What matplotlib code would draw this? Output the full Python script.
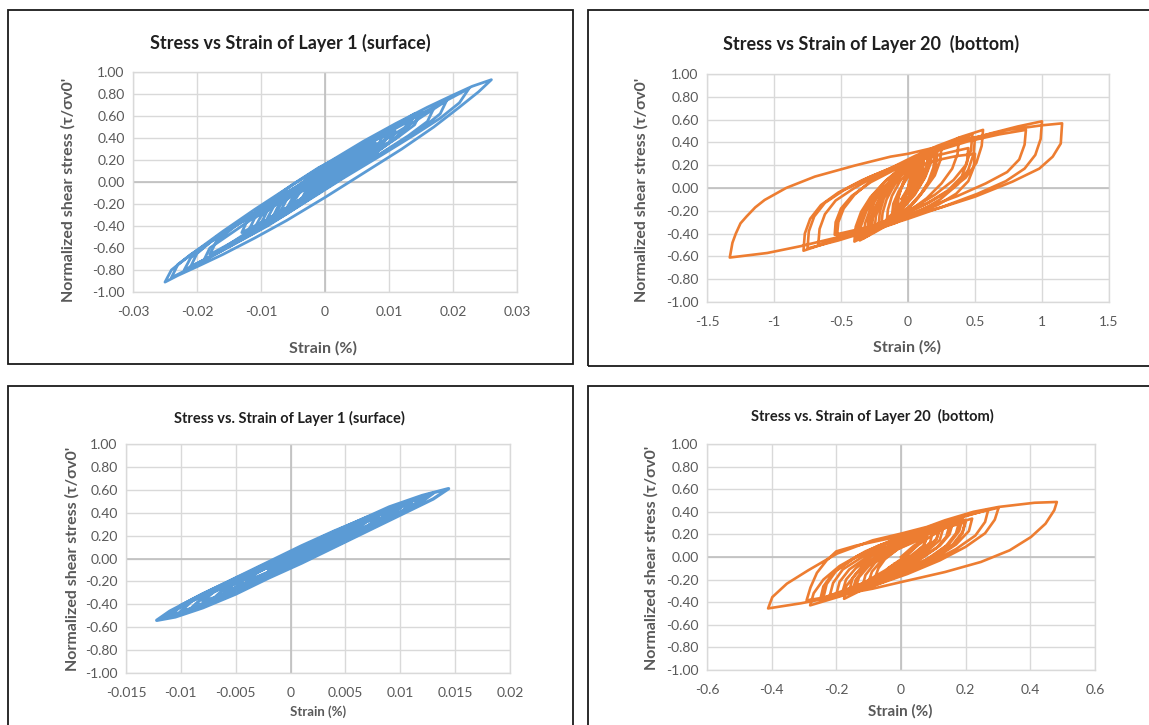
import numpy as np
import matplotlib
matplotlib.use("Agg")
import matplotlib.pyplot as plt
from matplotlib.patches import Rectangle

plt.rcParams['font.family'] = ['Lato', 'DejaVu Sans']

BLUE = '#5B9BD5'
ORANGE = '#ED7D31'

# strain (%) / normalized shear stress
layer1_run1 = [
    (0.000, 0.01), (0.001, 0.07), (0.003, 0.13),
    (0.002, 0.06), (0.000, -0.02), (-0.002, -0.09), (-0.003, -0.12),
    (-0.002, -0.03), (0.000, 0.05), (0.003, 0.15), (0.005, 0.21),
    (0.004, 0.13), (0.002, 0.03), (0.000, -0.06), (-0.003, -0.15), (-0.005, -0.19),
    (-0.004, -0.10), (-0.002, 0.00), (0.001, 0.12), (0.004, 0.22), (0.007, 0.28),
    (0.006, 0.19), (0.003, 0.07), (0.000, -0.05), (-0.003, -0.15), (-0.005, -0.22), (-0.007, -0.27),
    (-0.006, -0.16), (-0.003, -0.03), (0.000, 0.09), (0.003, 0.20), (0.006, 0.30), (0.009, 0.36),
    (0.008, 0.26), (0.005, 0.13), (0.002, 0.01), (-0.001, -0.10), (-0.004, -0.20), (-0.007, -0.28), (-0.009, -0.33),
    (-0.008, -0.22), (-0.005, -0.08), (-0.002, 0.06), (0.002, 0.20), (0.006, 0.34), (0.010, 0.45),
    (0.009, 0.33), (0.006, 0.20), (0.003, 0.07), (0.000, -0.06), (-0.004, -0.20), (-0.008, -0.33), (-0.012, -0.45),
    (-0.011, -0.33), (-0.008, -0.19), (-0.004, -0.03), (0.000, 0.12), (0.004, 0.27), (0.009, 0.44), (0.014, 0.62),
    (0.013, 0.50), (0.010, 0.36), (0.006, 0.20), (0.002, 0.05), (-0.003, -0.14), (-0.008, -0.32), (-0.013, -0.50), (-0.018, -0.66),
    (-0.017, -0.54), (-0.014, -0.40), (-0.009, -0.22), (-0.004, -0.03), (0.001, 0.15), (0.006, 0.33), (0.011, 0.50), (0.017, 0.67),
    (0.016, 0.55), (0.013, 0.42), (0.009, 0.27), (0.004, 0.09), (-0.001, -0.10), (-0.006, -0.29), (-0.011, -0.46), (-0.016, -0.62), (-0.021, -0.77),
    (-0.020, -0.65), (-0.017, -0.50), (-0.012, -0.32), (-0.007, -0.13), (-0.001, 0.08), (0.005, 0.30), (0.011, 0.50), (0.017, 0.68), (0.0225, 0.85),
    (0.021, 0.72), (0.018, 0.58), (0.014, 0.43), (0.009, 0.25), (0.003, 0.04), (-0.003, -0.18), (-0.009, -0.40), (-0.015, -0.59), (-0.020, -0.75), (-0.024, -0.87),
    (-0.023, -0.75), (-0.020, -0.62), (-0.016, -0.45), (-0.011, -0.25), (-0.006, -0.06), (0.000, 0.16), (0.006, 0.37), (0.011, 0.53), (0.016, 0.68), (0.020, 0.79), (0.023, 0.87), (0.026, 0.93),
    (0.024, 0.82), (0.021, 0.68), (0.017, 0.50), (0.012, 0.30), (0.006, 0.08), (0.000, -0.14), (-0.006, -0.35), (-0.011, -0.51), (-0.016, -0.66), (-0.020, -0.77), (-0.023, -0.85), (-0.025, -0.91),
    (-0.024, -0.80), (-0.021, -0.66), (-0.016, -0.47), (-0.010, -0.25), (-0.004, -0.03), (0.002, 0.18), (0.008, 0.39), (0.013, 0.55),
    (0.012, 0.44), (0.009, 0.31), (0.005, 0.16), (0.000, -0.03), (-0.005, -0.20), (-0.011, -0.42),
    (-0.010, -0.31), (-0.007, -0.17), (-0.003, -0.01), (0.002, 0.16), (0.008, 0.35),
    (0.007, 0.25), (0.004, 0.12), (0.000, -0.04), (-0.003, -0.15), (-0.006, -0.24),
    (-0.005, -0.14), (-0.002, -0.01), (0.001, 0.10), (0.005, 0.24),
    (0.004, 0.14), (0.001, 0.02), (-0.002, -0.06),
    (0.000, 0.03),
    (0.004, 0.19), (0.009, 0.37), (0.014, 0.55), (0.019, 0.74),
    (0.018, 0.62), (0.015, 0.48), (0.010, 0.30), (0.004, 0.09), (-0.002, -0.13), (-0.008, -0.35), (-0.013, -0.52), (-0.018, -0.68), (-0.022, -0.80),
    (-0.021, -0.69), (-0.018, -0.55), (-0.013, -0.36), (-0.008, -0.17), (-0.002, 0.04), (0.004, 0.25), (0.010, 0.46), (0.015, 0.64),
    (0.014, 0.52), (0.011, 0.39), (0.007, 0.24), (0.002, 0.06), (-0.003, -0.13), (-0.008, -0.31), (-0.013, -0.49), (-0.019, -0.72),
    (-0.018, -0.60), (-0.014, -0.44), (-0.009, -0.24), (-0.004, -0.05), (0.000, 0.10), (0.004, 0.24), (0.009, 0.42),
    (0.008, 0.30), (0.005, 0.17), (0.002, 0.04), (-0.002, -0.12), (-0.006, -0.26), (-0.010, -0.38),
    (-0.009, -0.26), (-0.006, -0.12), (-0.003, 0.02), (0.001, 0.17), (0.005, 0.30), (0.008, 0.39), (0.011, 0.46),
    (0.010, 0.36), (0.007, 0.22), (0.003, 0.06), (-0.001, -0.09), (-0.005, -0.21), (-0.008, -0.30),
    (-0.007, -0.18), (-0.004, -0.05), (0.000, 0.12), (0.004, 0.26), (0.007, 0.36),
    (0.006, 0.24), (0.003, 0.11), (-0.001, -0.06), (-0.005, -0.20), (-0.009, -0.34), (-0.013, -0.46),
    (-0.012, -0.33), (-0.009, -0.19), (-0.005, -0.02), (-0.001, 0.13), (0.003, 0.25), (0.006, 0.33),
    (0.005, 0.21), (0.002, 0.08), (-0.001, -0.06), (-0.004, -0.19), (-0.006, -0.28),
    (-0.005, -0.15), (-0.002, 0.00), (0.002, 0.17), (0.005, 0.30), (0.008, 0.40),
    (0.007, 0.28), (0.004, 0.14), (0.001, 0.01), (-0.002, -0.11), (-0.004, -0.20),
    (-0.003, -0.08), (0.000, 0.06), (0.002, 0.15), (0.004, 0.22),
    (0.003, 0.12), (0.000, 0.00), (-0.003, -0.12), (-0.006, -0.25), (-0.008, -0.34),
    (-0.007, -0.21), (-0.004, -0.06), (0.000, 0.12), (0.004, 0.28), (0.007, 0.39), (0.010, 0.47),
    (0.009, 0.35), (0.006, 0.22), (0.003, 0.11), (0.000, 0.03),
]

layer20_run1 = [
    (0.00, 0.00), (0.03, 0.12), (0.08, 0.22),
    (0.07, 0.12), (0.04, 0.01), (0.00, -0.10), (-0.05, -0.19), (-0.10, -0.25),
    (-0.09, -0.14), (-0.06, -0.03), (-0.02, 0.08), (0.04, 0.18), (0.12, 0.28),
    (0.11, 0.17), (0.08, 0.06), (0.03, -0.06), (-0.04, -0.17), (-0.12, -0.27), (-0.20, -0.35),
    (-0.19, -0.22), (-0.16, -0.10), (-0.11, 0.01), (-0.04, 0.13), (0.05, 0.23), (0.15, 0.32),
    (0.14, 0.20), (0.10, 0.07), (0.04, -0.06), (-0.04, -0.18), (-0.14, -0.29), (-0.28, -0.40),
    (-0.27, -0.28), (-0.23, -0.15), (-0.17, -0.03), (-0.09, 0.09), (0.02, 0.20), (0.20, 0.30),
    (0.19, 0.18), (0.15, 0.05), (0.08, -0.08), (-0.01, -0.20), (-0.13, -0.31), (-0.25, -0.39), (-0.36, -0.46),
    (-0.35, -0.33), (-0.31, -0.20), (-0.24, -0.08), (-0.15, 0.04), (-0.04, 0.16), (0.06, 0.25), (0.18, 0.33),
    (0.17, 0.22), (0.13, 0.10), (0.06, -0.03), (-0.03, -0.15), (-0.14, -0.28), (-0.30, -0.42),
    (-0.29, -0.30), (-0.25, -0.17), (-0.18, -0.04), (-0.08, 0.09), (0.05, 0.21), (0.18, 0.31), (0.28, 0.38), (0.38, 0.44),
    (0.37, 0.30), (0.33, 0.17), (0.25, 0.04), (0.14, -0.09), (0.00, -0.21), (-0.15, -0.32), (-0.28, -0.40), (-0.40, -0.47),
    (-0.39, -0.34), (-0.35, -0.21), (-0.28, -0.08), (-0.17, 0.06), (-0.03, 0.19), (0.12, 0.29), (0.28, 0.37), (0.40, 0.42), (0.50, 0.44),
    (0.49, 0.30), (0.45, 0.16), (0.37, 0.03), (0.24, -0.10), (0.08, -0.21), (-0.10, -0.31), (-0.25, -0.37), (-0.37, -0.42),
    (-0.36, -0.30), (-0.32, -0.18), (-0.24, -0.05), (-0.12, 0.07), (0.03, 0.17), (0.20, 0.24), (0.36, 0.28), (0.50, 0.30),
    (0.49, 0.18), (0.45, 0.06), (0.36, -0.05), (0.22, -0.15), (0.03, -0.24), (-0.17, -0.31), (-0.36, -0.37), (-0.53, -0.42),
    (-0.52, -0.30), (-0.48, -0.18), (-0.40, -0.06), (-0.28, 0.06), (-0.12, 0.18), (0.05, 0.28), (0.22, 0.37), (0.40, 0.45), (0.56, 0.51),
    (0.55, 0.37), (0.51, 0.22), (0.43, 0.09), (0.30, -0.03), (0.12, -0.15), (-0.10, -0.26), (-0.32, -0.36), (-0.55, -0.46), (-0.78, -0.55),
    (-0.77, -0.40), (-0.73, -0.27), (-0.65, -0.15), (-0.52, -0.04), (-0.34, 0.07), (-0.12, 0.18), (0.12, 0.29), (0.38, 0.40), (0.62, 0.48), (0.82, 0.54), (1.00, 0.585),
    (0.99, 0.43), (0.95, 0.29), (0.87, 0.17), (0.73, 0.06), (0.52, -0.05), (0.27, -0.16), (0.00, -0.27), (-0.27, -0.37), (-0.52, -0.46), (-0.75, -0.53),
    (-0.74, -0.38), (-0.70, -0.25), (-0.62, -0.13), (-0.48, -0.02), (-0.28, 0.10), (-0.05, 0.21), (0.20, 0.32), (0.45, 0.41), (0.68, 0.47), (0.88, 0.51),
    (0.87, 0.38), (0.83, 0.25), (0.74, 0.14), (0.58, 0.04), (0.37, -0.07), (0.12, -0.18), (-0.15, -0.30), (-0.42, -0.41), (-0.67, -0.50),
    (-0.66, -0.36), (-0.62, -0.23), (-0.54, -0.11), (-0.40, 0.00), (-0.22, 0.12), (0.00, 0.23), (0.22, 0.33), (0.48, 0.47),
    (0.47, 0.33), (0.43, 0.20), (0.34, 0.07), (0.20, -0.06), (0.02, -0.19), (-0.20, -0.31), (-0.48, -0.42), (-0.80, -0.51), (-1.05, -0.57), (-1.33, -0.61),
    (-1.31, -0.48), (-1.285, -0.40), (-1.25, -0.31), (-1.205, -0.25), (-1.14, -0.17), (-1.07, -0.105), (-0.91, 0.00), (-0.695, 0.10), (-0.40, 0.196), (-0.13, 0.275), (0.00, 0.30), (0.20, 0.355), (0.45, 0.43), (0.75, 0.51), (1.00, 0.55), (1.15, 0.567),
    (1.14, 0.39), (1.08, 0.275), (0.98, 0.17), (0.78, 0.056), (0.50, -0.076), (0.25, -0.17), (0.00, -0.25), (-0.25, -0.33), (-0.547, -0.41),
    (-0.54, -0.30), (-0.50, -0.18), (-0.42, -0.07), (-0.28, 0.05), (-0.10, 0.16), (0.10, 0.25), (0.30, 0.31), (0.45, 0.35),
    (0.44, 0.22), (0.40, 0.10), (0.30, -0.02), (0.15, -0.13), (0.00, -0.21), (-0.15, -0.28), (-0.30, -0.35),
    (-0.29, -0.23), (-0.25, -0.11), (-0.18, 0.00), (-0.08, 0.12), (0.03, 0.22), (0.15, 0.30),
    (0.14, 0.18), (0.10, 0.06), (0.03, -0.07), (-0.06, -0.18), (-0.14, -0.27), (-0.22, -0.33),
    (-0.21, -0.21), (-0.18, -0.09), (-0.12, 0.02), (-0.04, 0.13), (0.10, 0.25),
    (0.09, 0.14), (0.06, 0.03), (0.00, -0.09), (-0.06, -0.18), (-0.12, -0.25),
    (-0.11, -0.14), (-0.07, -0.03), (-0.01, 0.08), (0.05, 0.17),
    (0.04, 0.08), (0.01, -0.02), (-0.05, -0.10),
    (0.00, 0.00), (0.02, 0.10), (0.06, 0.20), (0.12, 0.30),
    (0.11, 0.18), (0.07, 0.06), (0.01, -0.07), (-0.07, -0.19), (-0.16, -0.30), (-0.25, -0.38),
    (-0.24, -0.25), (-0.21, -0.13), (-0.15, -0.01), (-0.07, 0.12), (0.00, 0.21), (0.08, 0.28),
    (0.07, 0.16), (0.03, 0.03), (-0.03, -0.10), (-0.12, -0.23), (-0.22, -0.35), (-0.33, -0.44),
    (-0.32, -0.31), (-0.28, -0.18), (-0.22, -0.06), (-0.13, 0.07), (-0.02, 0.19), (0.10, 0.27), (0.22, 0.33),
    (0.21, 0.21), (0.17, 0.08), (0.10, -0.05), (0.01, -0.17), (-0.08, -0.26), (-0.16, -0.32),
    (-0.15, -0.19), (-0.12, -0.07), (-0.06, 0.06), (0.03, 0.18), (0.13, 0.28), (0.25, 0.36),
    (0.24, 0.24), (0.20, 0.11), (0.12, -0.02), (0.02, -0.15), (-0.10, -0.27), (-0.24, -0.37), (-0.38, -0.45),
    (-0.37, -0.32), (-0.33, -0.19), (-0.26, -0.06), (-0.16, 0.07), (-0.06, 0.17), (0.05, 0.25),
    (0.04, 0.14), (0.01, 0.03), (-0.03, -0.09), (-0.08, -0.20),
    (-0.07, -0.08), (-0.04, 0.04), (0.02, 0.16), (0.09, 0.26), (0.17, 0.33),
    (0.16, 0.21), (0.12, 0.08), (0.05, -0.06), (-0.05, -0.19), (-0.16, -0.29), (-0.27, -0.36),
    (-0.26, -0.23), (-0.22, -0.11), (-0.16, 0.01), (-0.08, 0.13), (0.00, 0.22),
]

layer1_run2 = [
    (0.000, -0.01), (0.002, 0.08), (0.001, 0.02), (-0.001, -0.07), (-0.002, -0.10),
    (-0.001, -0.03), (0.001, 0.05), (0.003, 0.13), (0.004, 0.17),
    (0.003, 0.10), (0.001, 0.01), (-0.001, -0.08), (-0.003, -0.16), (-0.004, -0.19),
    (-0.003, -0.12), (-0.001, -0.02), (0.001, 0.07), (0.003, 0.16), (0.005, 0.23), (0.006, 0.26),
    (0.005, 0.19), (0.003, 0.09), (0.001, 0.00), (-0.001, -0.10), (-0.003, -0.19), (-0.005, -0.26), (-0.006, -0.28),
    (-0.005, -0.20), (-0.003, -0.10), (0.000, 0.04), (0.003, 0.17), (0.006, 0.30), (0.008, 0.35),
    (0.007, 0.28), (0.005, 0.18), (0.002, 0.04), (-0.001, -0.10), (-0.004, -0.24), (-0.006, -0.32), (-0.008, -0.37),
    (-0.007, -0.29), (-0.004, -0.15), (-0.001, -0.01), (0.002, 0.12), (0.005, 0.26), (0.008, 0.38), (0.010, 0.44),
    (0.009, 0.36), (0.006, 0.22), (0.003, 0.09), (0.000, -0.06), (-0.003, -0.20), (-0.006, -0.34), (-0.008, -0.42), (-0.010, -0.46),
    (-0.009, -0.37), (-0.006, -0.23), (-0.003, -0.09), (0.000, 0.05), (0.003, 0.19), (0.006, 0.32), (0.009, 0.45), (0.012, 0.55), (0.0144, 0.61),
    (0.013, 0.52), (0.010, 0.38), (0.007, 0.24), (0.004, 0.10), (0.001, -0.04), (-0.002, -0.17), (-0.005, -0.31), (-0.008, -0.43), (-0.0105, -0.51), (-0.0122, -0.54),
    (-0.011, -0.46), (-0.008, -0.31), (-0.005, -0.17), (-0.002, -0.03), (0.001, 0.11), (0.004, 0.24), (0.007, 0.36), (0.009, 0.42),
    (0.008, 0.33), (0.005, 0.19), (0.002, 0.05), (-0.001, -0.09), (-0.004, -0.23), (-0.006, -0.29),
    (-0.005, -0.21), (-0.002, -0.07), (0.001, 0.07), (0.004, 0.18),
    (0.003, 0.11), (0.000, -0.03), (-0.002, -0.10),
    (-0.001, -0.04), (0.001, 0.04),
    (0.003, 0.15), (0.005, 0.25), (0.007, 0.34), (0.009, 0.42), (0.011, 0.48),
    (0.010, 0.40), (0.008, 0.30), (0.006, 0.20), (0.004, 0.11), (0.002, 0.02), (0.000, -0.06), (-0.002, -0.15), (-0.004, -0.23), (-0.006, -0.32), (-0.008, -0.40), (-0.010, -0.47), (-0.011, -0.50),
    (-0.010, -0.41), (-0.008, -0.31), (-0.006, -0.22), (-0.004, -0.13), (-0.002, -0.04), (0.000, 0.05), (0.002, 0.14), (0.004, 0.23), (0.006, 0.31), (0.008, 0.39), (0.010, 0.47), (0.012, 0.53),
    (0.011, 0.45), (0.009, 0.35), (0.007, 0.26), (0.005, 0.17), (0.003, 0.08), (0.001, -0.01), (-0.001, -0.10), (-0.003, -0.19), (-0.005, -0.28), (-0.007, -0.36), (-0.009, -0.43),
    (-0.008, -0.34), (-0.006, -0.24), (-0.004, -0.15), (-0.002, -0.06), (0.000, 0.03), (0.002, 0.12), (0.004, 0.21), (0.006, 0.30), (0.008, 0.39), (0.010, 0.46),
    (0.009, 0.38), (0.007, 0.28), (0.005, 0.19), (0.003, 0.10), (0.001, 0.01), (-0.001, -0.08), (-0.003, -0.17), (-0.005, -0.26), (-0.007, -0.35),
    (-0.006, -0.26), (-0.004, -0.16), (-0.002, -0.07), (0.000, 0.02), (0.002, 0.11), (0.004, 0.20), (0.006, 0.29), (0.008, 0.38), (0.010, 0.47), (0.012, 0.54), (0.013, 0.57),
    (0.012, 0.50), (0.010, 0.40), (0.008, 0.31), (0.006, 0.22), (0.004, 0.13), (0.002, 0.04), (0.000, -0.05), (-0.002, -0.14), (-0.004, -0.23), (-0.006, -0.31), (-0.008, -0.40), (-0.010, -0.48), (-0.0115, -0.52),
    (-0.010, -0.42), (-0.008, -0.32), (-0.006, -0.23), (-0.004, -0.14), (-0.002, -0.05), (0.000, 0.04), (0.002, 0.13), (0.004, 0.21), (0.006, 0.29), (0.007, 0.33),
    (0.006, 0.25), (0.004, 0.15), (0.002, 0.06), (0.000, -0.04), (-0.002, -0.12), (-0.004, -0.21), (-0.005, -0.25),
    (-0.004, -0.16), (-0.002, -0.06), (0.000, 0.03), (0.002, 0.12), (0.004, 0.20), (0.005, 0.24),
    (0.004, 0.15), (0.002, 0.06), (0.000, -0.02),
]

layer20_run2 = [
    (0.00, 0.00), (0.04, 0.10), (0.08, 0.17),
    (0.07, 0.10), (0.04, 0.02), (0.00, -0.06), (-0.04, -0.13), (-0.08, -0.18),
    (-0.07, -0.10), (-0.05, -0.02), (-0.01, 0.07), (0.05, 0.16), (0.12, 0.25),
    (0.11, 0.16), (0.08, 0.07), (0.03, -0.03), (-0.03, -0.12), (-0.09, -0.20), (-0.14, -0.27),
    (-0.13, -0.18), (-0.10, -0.08), (-0.05, 0.03), (0.02, 0.13), (0.09, 0.22), (0.16, 0.30),
    (0.15, 0.20), (0.12, 0.10), (0.06, -0.01), (-0.01, -0.11), (-0.09, -0.21), (-0.18, -0.30),
    (-0.17, -0.20), (-0.14, -0.10), (-0.09, 0.01), (-0.02, 0.12), (0.06, 0.22), (0.13, 0.29), (0.19, 0.34),
    (0.18, 0.23), (0.15, 0.12), (0.10, 0.01), (0.03, -0.10), (-0.05, -0.20), (-0.12, -0.29), (-0.176, -0.37),
    (-0.17, -0.26), (-0.14, -0.15), (-0.09, -0.04), (-0.02, 0.08), (0.07, 0.19), (0.14, 0.26), (0.20, 0.31),
    (0.19, 0.21), (0.16, 0.10), (0.10, -0.01), (0.02, -0.12), (-0.07, -0.22), (-0.15, -0.29), (-0.22, -0.34),
    (-0.21, -0.23), (-0.18, -0.11), (-0.12, 0.00), (-0.04, 0.12), (0.05, 0.22), (0.14, 0.31), (0.21, 0.37), (0.27, 0.42),
    (0.26, 0.31), (0.23, 0.19), (0.17, 0.07), (0.09, -0.05), (0.00, -0.16), (-0.09, -0.26), (-0.19, -0.35), (-0.281, -0.428),
    (-0.27, -0.32), (-0.24, -0.20), (-0.19, -0.08), (-0.11, 0.05), (-0.01, 0.17), (0.09, 0.27), (0.19, 0.36), (0.302, 0.437),
    (0.29, 0.33), (0.26, 0.21), (0.20, 0.09), (0.12, -0.03), (0.02, -0.15), (-0.09, -0.26), (-0.20, -0.35), (-0.31, -0.41), (-0.411, -0.455),
    (-0.398, -0.355), (-0.353, -0.236), (-0.287, -0.118), (-0.198, 0.03), (-0.087, 0.148), (0.00, 0.207), (0.08, 0.266), (0.136, 0.325), (0.224, 0.40), (0.302, 0.443), (0.413, 0.48), (0.482, 0.487),
    (0.474, 0.414), (0.447, 0.295), (0.402, 0.177), (0.336, 0.059), (0.247, -0.044), (0.136, -0.133), (0.00, -0.222), (-0.087, -0.28), (-0.198, -0.34), (-0.292, -0.384),
    (-0.28, -0.27), (-0.26, -0.14), (-0.23, -0.03), (-0.20, 0.05), (-0.14, 0.10), (-0.06, 0.15), (0.04, 0.21), (0.12, 0.27), (0.20, 0.33),
    (0.19, 0.22), (0.16, 0.11), (0.10, 0.00), (0.02, -0.11), (-0.06, -0.21), (-0.15, -0.30),
    (-0.14, -0.20), (-0.11, -0.09), (-0.06, 0.02), (0.02, 0.14), (0.13, 0.25),
    (0.12, 0.15), (0.08, 0.05), (0.02, -0.06), (-0.04, -0.15), (-0.10, -0.22),
    (-0.09, -0.13), (-0.06, -0.03), (-0.01, 0.07), (0.08, 0.18),
    (0.07, 0.10), (0.03, 0.01), (-0.04, -0.10),
    (0.00, -0.02), (0.04, 0.08), (0.09, 0.18), (0.15, 0.28),
    (0.14, 0.18), (0.11, 0.08), (0.05, -0.04), (-0.03, -0.15), (-0.11, -0.25), (-0.20, -0.33),
    (-0.19, -0.22), (-0.16, -0.11), (-0.10, 0.01), (-0.02, 0.12), (0.10, 0.24),
    (0.09, 0.13), (0.05, 0.02), (-0.02, -0.10), (-0.10, -0.21), (-0.17, -0.29), (-0.24, -0.36),
    (-0.23, -0.24), (-0.20, -0.12), (-0.14, 0.00), (-0.06, 0.11), (0.04, 0.21), (0.11, 0.27), (0.18, 0.31),
    (0.17, 0.21), (0.14, 0.10), (0.08, -0.02), (0.00, -0.13), (-0.06, -0.21), (-0.12, -0.27),
    (-0.11, -0.16), (-0.08, -0.05), (-0.02, 0.07), (0.06, 0.18), (0.14, 0.27), (0.22, 0.34),
    (0.21, 0.23), (0.17, 0.11), (0.10, -0.02), (0.01, -0.13), (-0.08, -0.24), (-0.17, -0.32), (-0.25, -0.38),
    (-0.24, -0.26), (-0.21, -0.14), (-0.15, -0.02), (-0.07, 0.10), (0.06, 0.20),
    (0.05, 0.10), (0.01, -0.01), (-0.05, -0.12), (-0.11, -0.22), (-0.16, -0.30),
    (-0.15, -0.19), (-0.12, -0.08), (-0.06, 0.04), (0.02, 0.15), (0.12, 0.26),
    (0.11, 0.16), (0.07, 0.06), (0.02, -0.02), (-0.02, -0.06),
]

y_ticks = [1.0, 0.8, 0.6, 0.4, 0.2, 0.0, -0.2, -0.4, -0.6, -0.8, -1.0]
y_labels = ['1.00', '0.80', '0.60', '0.40', '0.20', '0.00',
            '-0.20', '-0.40', '-0.60', '-0.80', '-1.00']

x_ticks_1 = [-0.03, -0.02, -0.01, 0, 0.01, 0.02, 0.03]
x_labels_1 = ['-0.03', '-0.02', '-0.01', '0', '0.01', '0.02', '0.03']
x_ticks_2 = [-1.5, -1, -0.5, 0, 0.5, 1, 1.5]
x_labels_2 = ['-1.5', '-1', '-0.5', '0', '0.5', '1', '1.5']
x_ticks_3 = [-0.015, -0.01, -0.005, 0, 0.005, 0.01, 0.015, 0.02]
x_labels_3 = ['-0.015', '-0.01', '-0.005', '0', '0.005', '0.01', '0.015', '0.02']
x_ticks_4 = [-0.6, -0.4, -0.2, 0, 0.2, 0.4, 0.6]
x_labels_4 = ['-0.6', '-0.4', '-0.2', '0', '0.2', '0.4', '0.6']

W, H = 1149, 725
fig = plt.figure(figsize=(W / 100, H / 100), dpi=100)
fig.patch.set_facecolor('white')

def frac(l, t, r, b):
    return [l / W, 1 - b / H, (r - l) / W, (b - t) / H]

# outer chart boxes
for (l, t, r, b) in [(8, 10, 573, 364), (588, 10, 1165, 366),
                     (8, 386, 573, 740), (588, 386, 1165, 740)]:
    x0, y0, w, h = frac(l, t, r, b)
    fig.add_artist(Rectangle((x0, y0), w, h, transform=fig.transFigure,
                             fill=False, ec='#1a1a1a', lw=1.3))

panels = [
    dict(data=layer1_run1, color=BLUE, box=(133, 72, 517, 292), lw=2.0,
         xt=x_ticks_1, xl=x_labels_1,
         title='Stress vs Strain of Layer 1 (surface)', tpos=(290, 43), tsize=13,
         xlab_pos=(323, 348), xlab_size=11.5, ylab_pos=(68, 190), ylab_size=11.5),
    dict(data=layer20_run1, color=ORANGE, box=(707, 74, 1109, 302), lw=1.9,
         xt=x_ticks_2, xl=x_labels_2,
         title='Stress vs Strain of Layer 20  (bottom)', tpos=(871, 44), tsize=13,
         xlab_pos=(907, 347), xlab_size=11.5, ylab_pos=(641, 190), ylab_size=11.5),
    dict(data=layer1_run2, color=BLUE, box=(126, 444, 510, 673), lw=2.4,
         xt=x_ticks_3, xl=x_labels_3,
         title='Stress vs. Strain of Layer 1 (surface)', tpos=(289, 418), tsize=10.5,
         xlab_pos=(318, 712), xlab_size=9.5, ylab_pos=(72, 559), ylab_size=11.5),
    dict(data=layer20_run2, color=ORANGE, box=(707, 444, 1095, 670), lw=1.9,
         xt=x_ticks_4, xl=x_labels_4,
         title='Stress vs. Strain of Layer 20  (bottom)', tpos=(872, 416), tsize=10.5,
         xlab_pos=(900, 711), xlab_size=11, ylab_pos=(651, 558), ylab_size=11.5),
]

for p in panels:
    ax = fig.add_axes(frac(*p['box']))
    xt = p['xt']
    ax.set_xlim(xt[0], xt[-1])
    ax.set_ylim(-1, 1)
    ax.set_xticks(xt)
    ax.set_xticklabels(p['xl'])
    ax.set_yticks(y_ticks)
    ax.set_yticklabels(y_labels)
    ax.grid(True, color='#d9d9d9', lw=1.0)
    ax.set_axisbelow(True)
    for s in ax.spines.values():
        s.set_color('#d9d9d9')
        s.set_linewidth(1.0)
    ax.axhline(0, color='#bfbfbf', lw=1.2, zorder=1)
    ax.axvline(0, color='#bfbfbf', lw=1.2, zorder=1)
    ax.tick_params(length=0, labelsize=10, labelcolor='#595959')
    ax.tick_params(axis='x', pad=10)
    ax.tick_params(axis='y', pad=6)

    pts = np.array(p['data'])
    ax.plot(pts[:, 0], pts[:, 1], color=p['color'], lw=p['lw'],
            solid_joinstyle='round', zorder=3)

    tx, ty = p['tpos']
    fig.text(tx / W, 1 - ty / H, p['title'], ha='center', va='center',
             fontsize=p['tsize'], fontweight='bold', color='#1f1f1f')
    lx, ly = p['xlab_pos']
    fig.text(lx / W, 1 - ly / H, 'Strain (%)', ha='center', va='center',
             fontsize=p['xlab_size'], fontweight='bold', color='#595959')
    yx, yy = p['ylab_pos']
    fig.text(yx / W, 1 - yy / H, "Normalized shear stress (τ/σv0'",
             ha='center', va='center', rotation=90,
             fontsize=p['ylab_size'], fontweight='bold', color='#595959')

fig.savefig('out.png', dpi=100)
